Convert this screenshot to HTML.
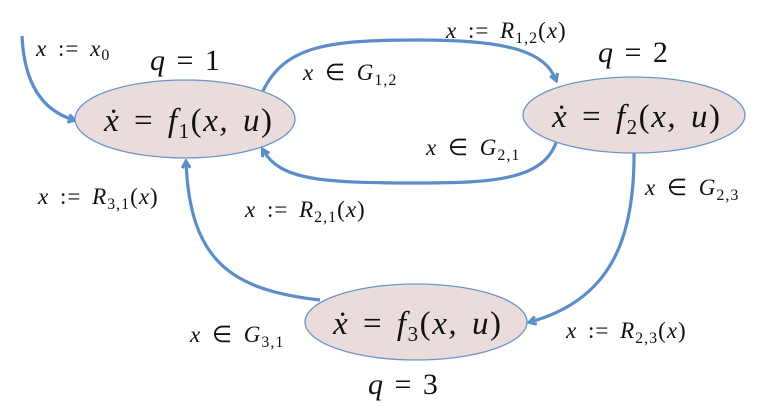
<!DOCTYPE html>
<html><head><meta charset="utf-8"><style>
html,body{margin:0;padding:0;background:#fff}
svg{display:block}
text{font-family:"Liberation Serif",serif;fill:#111}
.i{font-style:italic}
</style></head><body>
<svg width="771" height="408" viewBox="0 0 771 408" xmlns="http://www.w3.org/2000/svg">
<defs>
<marker id="a" markerWidth="10" markerHeight="10" refX="7" refY="5" orient="auto" markerUnits="userSpaceOnUse">
<path d="M1,1 L8,5 L1,9" fill="none" stroke="#5b8dc8" stroke-width="3"/>
</marker>
</defs>
<g fill="none" stroke="#5b8dc8" stroke-width="3.2">
<path d="M22,36 C24,80 40,110 74,120" marker-end="url(#a)"/>
<path d="M263,91 C285,45 330,40 420,40 C510,40 545,52 556,80" marker-end="url(#a)"/>
<path d="M557,140 C545,178 500,183 420,183 C320,183 280,180 263,150" marker-end="url(#a)"/>
<path d="M634,150 C635,240 610,300 530,322" marker-end="url(#a)"/>
<path d="M320,300 C230,290 190,260 186,162" marker-end="url(#a)"/>
</g>
<g fill="#ebdcdc" stroke="#6b96c9" stroke-width="1.3">
<ellipse cx="185" cy="119" rx="110" ry="39"/>
<ellipse cx="634" cy="115" rx="111" ry="38"/>
<ellipse cx="416" cy="322" rx="111" ry="38"/>
</g>
<g font-size="33" word-spacing="4">
<text x="104" y="131" class="i" textLength="168">ẋ <tspan font-style="normal">=</tspan> f<tspan font-size="21" font-style="normal" dy="7">1</tspan><tspan dy="-7" font-style="normal">(</tspan>x, u<tspan font-style="normal">)</tspan></text>
<text x="552" y="127" class="i" textLength="168">ẋ <tspan font-style="normal">=</tspan> f<tspan font-size="21" font-style="normal" dy="7">2</tspan><tspan dy="-7" font-style="normal">(</tspan>x, u<tspan font-style="normal">)</tspan></text>
<text x="333" y="334" class="i" textLength="168">ẋ <tspan font-style="normal">=</tspan> f<tspan font-size="21" font-style="normal" dy="7">3</tspan><tspan dy="-7" font-style="normal">(</tspan>x, u<tspan font-style="normal">)</tspan></text>
</g>
<g font-size="30" word-spacing="4">
<text x="150" y="70" class="i">q <tspan font-style="normal">= 1</tspan></text>
<text x="598" y="62" class="i">q <tspan font-style="normal">= 2</tspan></text>
<text x="368" y="394" class="i">q <tspan font-style="normal">= 3</tspan></text>
</g>
<g font-size="23" word-spacing="4" letter-spacing="1">
<text x="36" y="56" class="i">x <tspan font-style="normal">:=</tspan> x<tspan font-size="16" font-style="normal" dy="4">0</tspan></text>
<text x="303" y="80" class="i">x <tspan font-style="normal">∈</tspan> G<tspan font-size="16" font-style="normal" dy="5">1,2</tspan></text>
<text x="446" y="38" class="i">x <tspan font-style="normal">:=</tspan> R<tspan font-size="16" font-style="normal" dy="5">1,2</tspan><tspan dy="-5" font-style="normal">(</tspan>x<tspan font-style="normal">)</tspan></text>
<text x="426" y="155" class="i">x <tspan font-style="normal">∈</tspan> G<tspan font-size="16" font-style="normal" dy="5">2,1</tspan></text>
<text x="245" y="217" class="i">x <tspan font-style="normal">:=</tspan> R<tspan font-size="16" font-style="normal" dy="5">2,1</tspan><tspan dy="-5" font-style="normal">(</tspan>x<tspan font-style="normal">)</tspan></text>
<text x="38" y="204" class="i">x <tspan font-style="normal">:=</tspan> R<tspan font-size="16" font-style="normal" dy="5">3,1</tspan><tspan dy="-5" font-style="normal">(</tspan>x<tspan font-style="normal">)</tspan></text>
<text x="645" y="195" class="i">x <tspan font-style="normal">∈</tspan> G<tspan font-size="16" font-style="normal" dy="5">2,3</tspan></text>
<text x="566" y="338" class="i">x <tspan font-style="normal">:=</tspan> R<tspan font-size="16" font-style="normal" dy="5">2,3</tspan><tspan dy="-5" font-style="normal">(</tspan>x<tspan font-style="normal">)</tspan></text>
<text x="190" y="342" class="i">x <tspan font-style="normal">∈</tspan> G<tspan font-size="16" font-style="normal" dy="5">3,1</tspan></text>
</g>
</svg>
</body></html>
